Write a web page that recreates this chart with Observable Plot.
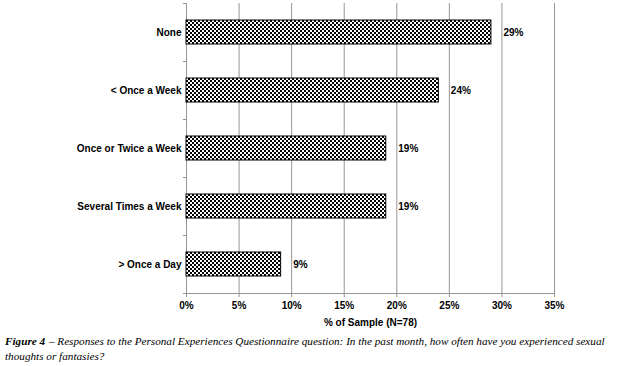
<!DOCTYPE html>
<html>
<head>
<meta charset="utf-8">
<script src="https://cdn.jsdelivr.net/npm/d3@7"></script>
<script src="https://cdn.jsdelivr.net/npm/@observablehq/plot@0.6"></script>
<style>
  html, body { margin: 0; padding: 0; background: #fff; }
  #chart svg { display: block; }
  #caption {
    font-family: "Liberation Serif", "Times New Roman", serif;
    font-style: italic;
    font-size: 11.2px;
    line-height: 15px;
    margin: 1px 0 0 5px;
    width: 614px;
    color: #000;
  }
  #caption div { white-space: nowrap; }
  #caption b { font-weight: bold; margin-right: 1px; }
</style>
</head>
<body>
<div id="chart"></div>
<div id="caption">
  <div><b>Figure 4</b><span> – Responses to the Personal Experiences Questionnaire question: In the past month, how often have you experienced sexual</span></div>
  <div>thoughts or fantasies?</div>
</div>
<script>
const categories = ["None", "< Once a Week", "Once or Twice a Week", "Several Times a Week", "> Once a Day"];
const values = [29, 24, 19, 19, 9];
const xTicks = [0, 5, 10, 15, 20, 25, 30, 35];
const xTitle = "% of Sample (N=78)";

const data = categories.map((c, i) => ({category: c, value: values[i]}));
const gray = "#959595";

const plot = Plot.plot({
  width: 620,
  height: 333,
  marginLeft: 186,
  marginRight: 66,
  marginTop: 3,
  marginBottom: 40,
  style: {fontFamily: "'Liberation Sans', Arial, sans-serif", fontSize: "10px", fontWeight: "bold", color: "#000", background: "#fff"},
  x: {domain: [0, 35], ticks: xTicks, tickFormat: d => d + "%", label: null, tickSize: 4, tickPadding: 4},
  y: {domain: categories, paddingInner: 0.585, paddingOuter: 0.2925, label: null, tickSize: 0, tickPadding: 5},
  marks: [
    Plot.ruleX(xTicks.slice(1), {stroke: gray, strokeWidth: 1}),
    Plot.ruleX([0], {stroke: gray, strokeWidth: 1}),
    Plot.ruleY(categories, {y: d => d, dy: -29, x1: -0.3, x2: 0, stroke: gray}),
    Plot.ruleY(categories.slice(-1), {y: d => d, dy: 29, x1: -0.3, x2: 35, stroke: gray}),
    Plot.barX(data, {y: "category", x: "value", fill: "url(#checker)", stroke: "#000", strokeWidth: 1}),
    Plot.text(data, {y: "category", x: "value", text: d => d.value + "%", dx: 12, textAnchor: "start", fontWeight: "bold", fontSize: 10, fill: "#000"}),
    Plot.text([xTitle], {frameAnchor: "bottom", dy: 32, fontWeight: "bold", fontSize: 10, fill: "#000"}),
    Plot.axisX({ticks: xTicks, tickFormat: d => d + "%", tickSize: 4, tickPadding: 4, stroke: gray, label: null}),
    Plot.axisY({tickSize: 0, tickPadding: 5, label: null})
  ]
});

const svg = d3.select(plot);
const defs = svg.insert("defs", ":first-child");
const pat = defs.append("pattern").attr("id", "checker").attr("patternUnits", "userSpaceOnUse")
  .attr("width", 4).attr("height", 4);
pat.append("rect").attr("width", 4).attr("height", 4).attr("fill", "#000");
pat.append("rect").attr("x", 0).attr("y", 0).attr("width", 2).attr("height", 2).attr("fill", "#fff");
pat.append("rect").attr("x", 2).attr("y", 2).attr("width", 2).attr("height", 2).attr("fill", "#fff");

document.getElementById("chart").appendChild(plot);
</script>
</body>
</html>
